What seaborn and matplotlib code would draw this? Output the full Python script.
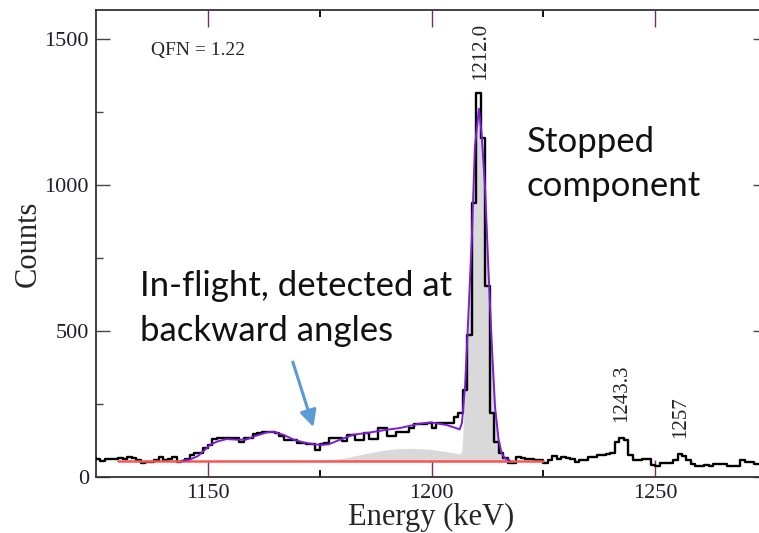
import numpy as np
import pandas as pd
import matplotlib
matplotlib.use("Agg")
import matplotlib.pyplot as plt
import seaborn as sns

# ---------------- data ----------------
# measured spectrum, 1-keV bins; first bin starts at 1124 keV
bin_start = 1124
counts = [
    65, 62, 55, 60, 60, 60, 64, 60, 70, 66,      # 1124-1133
    58, 49, 50, 52, 58, 67, 58, 60, 67, 52,      # 1134-1143
    54, 60, 75, 81, 81, 98, 110, 129, 132, 134,  # 1144-1153
    134, 132, 132, 120, 132, 132, 146, 150, 155, 155,  # 1154-1163
    155, 150, 140, 127, 127, 127, 118, 118, 112, 112,  # 1164-1173
    92, 112, 115, 132, 132, 132, 124, 144, 144, 127,   # 1174-1183
    127, 150, 129, 129, 167, 167, 140, 140, 155, 155,  # 1184-1193
    155, 167, 180, 180, 180, 186, 167, 184, 184, 184,  # 1194-1203
    184, 205, 218, 298, 488, 940, 1317, 1160, 655, 218,  # 1204-1213
    121, 81, 64, 47, 47, 70, 64, 60, 60, 58,     # 1214-1223
    58, 47, 58, 72, 60, 67, 66, 62, 52, 58,      # 1224-1233
    58, 67, 70, 75, 75, 80, 81, 121, 132, 127,   # 1234-1243
    75, 58, 58, 60, 60, 41, 38, 47, 47, 47,      # 1244-1253
    58, 79, 72, 58, 44, 38, 38, 41, 38, 44,      # 1254-1263
    44, 44, 38, 38, 38, 58, 52, 52, 44, 44, 44,  # 1264-1274
]

# total fit curve (purple)
fit_e = [1144.5, 1146, 1147.8, 1149.7, 1150.5, 1152, 1154.2, 1156.4, 1158.5, 1160.9,
         1163.2, 1164.7, 1167, 1169.2, 1171.5, 1173.7, 1175.5, 1177, 1179.1, 1182.5,
         1186, 1190, 1193, 1197.4, 1200, 1203.4, 1205.6, 1206.3, 1206.8, 1207.5,
         1208.2, 1209, 1209.7, 1210.6, 1211.2, 1212, 1212.7, 1213.5, 1214.2, 1215,
         1215.7, 1216.4, 1217.5]
fit_c = [57, 60, 72, 98, 110, 121, 130, 128, 128, 142,
         153, 155, 144, 128, 118, 112, 110, 112, 125, 145,
         152, 162, 168, 183, 187, 178, 167, 163, 185, 309,
         538, 812, 1131, 1262, 1177, 983, 720, 446, 241, 127,
         81, 64, 57]

# background line (red)
bg_e = [1130, 1225]
bg_c = [56, 56]

# component shapes (gray fill above background)
comp_e = [1172, 1177.3, 1181, 1184.7, 1188.5, 1192.2, 1196, 1199.6, 1203.4, 1206.4,
          1206.8, 1207.5, 1208.2, 1209, 1209.7, 1210.5, 1211.2, 1212, 1212.7, 1213.5,
          1214.2, 1215, 1215.7, 1216.4, 1217.5]
comp_c = [56, 58, 66, 79, 90, 97, 98, 95, 87, 79,
          92, 290, 500, 790, 1090, 1250, 1175, 980, 718, 444,
          240, 125, 79, 62, 56]

peak_labels = ["1212.0", "1243.3", "1257"]
peak_x = [1211.0, 1242.5, 1255.6]
peak_y = [1360, 189, 134]

note_lines = ["In-flight, detected at", "backward angles", "Stopped", "component"]
note_x = [1134.8, 1134.8, 1221.3, 1221.3]
note_y = [620, 466, 1113, 962]

x_major = [1150, 1200, 1250]
x_minor = [1175, 1225, 1275]
y_major = [0, 500, 1000, 1500]
y_minor = [250, 750, 1250]

# ---------------- style ----------------
sns.set_style("ticks")
plt.rcParams["font.family"] = ["Liberation Serif", "DejaVu Serif"]

W, H = 759, 533
fig = plt.figure(figsize=(W / 100, H / 100), dpi=100)
ax = fig.add_axes([96 / W, 1 - 477 / H, (767 - 96) / W, (477 - 10) / H])

energy = np.arange(bin_start, bin_start + len(counts)) + 0.5
hist_df = pd.DataFrame({"Energy": energy, "Counts": counts})
fit_df = pd.DataFrame({"Energy": fit_e, "Counts": fit_c})
bg_df = pd.DataFrame({"Energy": bg_e, "Counts": bg_c})

base = np.interp(comp_e, bg_e, bg_c)
ax.fill_between(comp_e, base, comp_c, color="#d9d9d9", lw=0, zorder=1)

sns.lineplot(data=hist_df, x="Energy", y="Counts", ax=ax, color="black",
             lw=1.7, drawstyle="steps-mid", estimator=None, zorder=3)
sns.lineplot(data=bg_df, x="Energy", y="Counts", ax=ax, color="#ff5252",
             lw=1.8, estimator=None, zorder=4)
sns.lineplot(data=fit_df, x="Energy", y="Counts", ax=ax, color="#7a1fd1",
             lw=1.4, estimator=None, zorder=5)

ax.set_xlim(1125, 1275)
ax.set_ylim(0, 1600)
ax.set_xticks(x_major)
ax.set_xticks(x_minor, minor=True)
ax.set_yticks(y_major)
ax.set_yticks(y_minor, minor=True)

ax.tick_params(axis="both", which="both", direction="in", top=True, right=True,
               labelsize=16, labelcolor="#1e1e30", pad=5)
ax.tick_params(axis="x", which="major", length=12, width=1.0, color="#7b2d6b")
ax.tick_params(axis="x", which="minor", length=5, width=1.3, color="black")
ax.tick_params(axis="y", which="major", length=10, width=1.0, color="#444444")
ax.tick_params(axis="y", which="minor", length=5, width=1.0, color="#444444")
for s in ax.spines.values():
    s.set_color("#333333")
    s.set_linewidth(1.3)

ax.set_xlabel("Energy (keV)", fontsize=22, labelpad=0)
ax.set_ylabel("Counts", fontsize=22, labelpad=1)

ax.text(1137.2, 1445, "QFN = 1.22", fontsize=14, ha="left", va="baseline")

for lab, px, py in zip(peak_labels, peak_x, peak_y):
    ax.text(px, py, lab, rotation=90, fontsize=15, ha="center", va="bottom",
            color="#222222")

for line, tx, ty in zip(note_lines, note_x, note_y):
    ax.text(tx, ty, line, fontsize=25, family=["Lato", "DejaVu Sans"],
            ha="left", va="baseline", color="#111111")

ax.annotate("", xy=(1173.6, 171), xytext=(1169.0, 394),
            arrowprops=dict(arrowstyle="-|>,head_length=1.0,head_width=0.5",
                            color="#5b9bd5", lw=2.2, shrinkA=0, shrinkB=0))

fig.savefig("out.png", dpi=100)
